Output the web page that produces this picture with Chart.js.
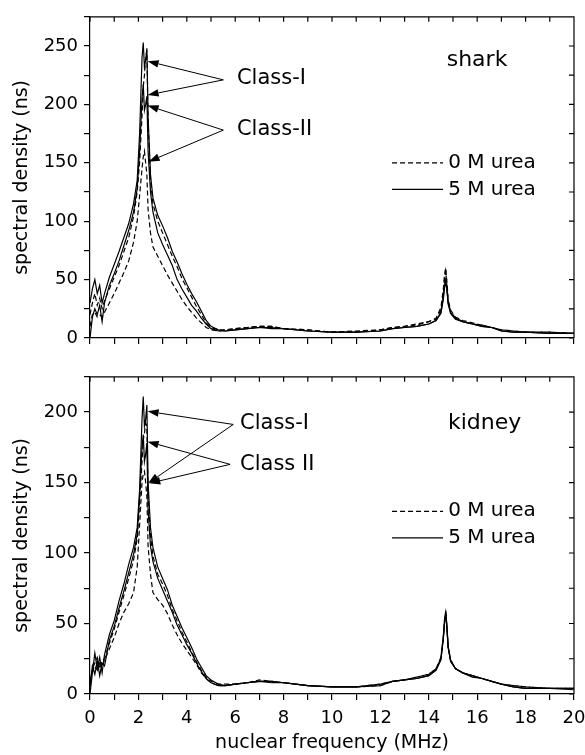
<!DOCTYPE html>
<html>
<head>
<meta charset="utf-8">
<script src="https://cdn.jsdelivr.net/npm/chart.js@4.4.1/dist/chart.umd.min.js"></script>
<style>
  html, body { margin: 0; padding: 0; background: #fff; }
  #wrap { position: relative; width: 585px; height: 755px; }
  canvas { position: absolute; left: 0; }
  #top { top: 0; }
  #bottom { top: 360px; }
</style>
</head>
<body>
<div id="wrap">
  <canvas id="top" width="585" height="360"></canvas>
  <canvas id="bottom" width="585" height="395"></canvas>
</div>
<script>
// frequency grid (MHz), shared by all curves
var freq = [0, 0.1, 0.2, 0.3, 0.4, 0.5, 0.6,
  0.8, 1.0, 1.2, 1.4, 1.6, 1.8,
  1.95, 2.05, 2.15, 2.2, 2.25, 2.3, 2.35, 2.4,
  2.5, 2.6, 2.8,
  3.0, 3.2, 3.4, 3.6, 3.8,
  4.0, 4.2, 4.4, 4.6, 4.8,
  5.0, 5.3, 5.6,
  6.0, 6.5, 7.0, 7.5, 8.0,
  9.0, 10.0, 11.0, 12.0,
  12.5, 13.0, 13.5, 14.0,
  14.3, 14.5, 14.6, 14.65, 14.7, 14.75, 14.8, 14.9,
  15.1, 15.4, 15.8, 16.2, 16.6,
  17.0, 17.5, 18.0, 19.0, 20.0];

// shark
var sharkI5 = [30, 42, 50, 38, 45, 30, 38,
  52, 63, 74, 86, 98, 115,
  135, 175, 240, 253, 232, 238, 248, 190,
  140, 120, 105,
  96, 86, 74, 65, 55,
  46, 38, 31, 23, 15,
  10, 7, 6,
  7, 8, 9, 9, 8,
  6, 5, 5, 6,
  8, 9, 10, 12,
  15, 22, 35, 45, 50, 42, 30, 22,
  17, 14, 12, 10, 9,
  6, 5, 5, 4, 4];
var sharkI0 = [20, 30, 38, 28, 34, 25, 32,
  42, 52, 62, 74, 86, 104,
  125, 150, 190, 215, 225, 240, 246, 185,
  135, 115, 100,
  90, 80, 70, 61, 51,
  43, 35, 27, 20, 13,
  9, 7, 7,
  8, 9, 10, 10, 8,
  7, 5, 5, 7,
  9, 10, 12, 14,
  17, 26, 42, 55, 60, 48, 33, 24,
  18, 15, 13, 11, 9,
  7, 6, 5, 5, 4];
var sharkII5 = [0, 18, 25, 20, 28, 14, 30,
  45, 55, 66, 79, 92, 108,
  128, 160, 205, 217, 195, 200, 207, 160,
  125, 108, 90,
  80, 71, 62, 50, 42,
  35, 28, 23, 17, 12,
  8, 6, 6,
  7, 8, 9, 8, 8,
  6, 5, 5, 6,
  8, 9, 10, 12,
  15, 21, 33, 43, 48, 40, 29, 21,
  16, 14, 12, 10, 9,
  6, 5, 5, 4, 4];
var sharkII0 = [10, 20, 22, 18, 20, 18, 22,
  30, 38, 47, 56, 66, 82,
  100, 122, 145, 155, 160, 150, 140, 110,
  90, 78, 70,
  62, 54, 47, 40, 33,
  27, 22, 17, 13, 9,
  7, 6, 7,
  8, 9, 10, 10, 8,
  7, 5, 6, 7,
  9, 10, 11, 14,
  16, 24, 38, 50, 57, 45, 31, 23,
  17, 14, 12, 11, 9,
  7, 6, 5, 5, 4];

// kidney
var kidneyI5 = [0, 15, 29, 18, 26, 15, 28,
  42, 52, 66, 78, 92, 104,
  118, 145, 195, 211, 190, 195, 205, 150,
  118, 104, 90,
  82, 74, 63, 55, 47,
  40, 33, 25, 19, 13,
  10, 7, 6,
  7, 8, 9, 8, 8,
  6, 5, 5, 7,
  9, 10, 11, 13,
  17, 25, 40, 52, 59, 48, 34, 24,
  18, 15, 13, 11, 9,
  7, 5, 4, 4, 3];
var kidneyI0 = [8, 18, 22, 26, 18, 24, 25,
  36, 46, 58, 70, 82, 95,
  110, 135, 165, 180, 185, 192, 190, 140,
  112, 98, 85,
  78, 70, 60, 52, 44,
  37, 30, 23, 17, 12,
  9, 7, 7,
  7, 8, 10, 9, 8,
  6, 5, 5, 7,
  9, 10, 12, 14,
  18, 26, 41, 53, 58, 47, 33, 24,
  18, 15, 13, 11, 9,
  7, 6, 5, 4, 4];
var kidneyII5 = [5, 20, 14, 24, 13, 22, 20,
  38, 48, 61, 73, 86, 99,
  113, 140, 175, 184, 165, 170, 178, 130,
  105, 94, 82,
  74, 66, 58, 49, 42,
  35, 29, 22, 16, 11,
  8, 6, 6,
  7, 8, 9, 9, 8,
  6, 5, 5, 6,
  9, 10, 11, 13,
  17, 24, 39, 50, 57, 46, 33, 23,
  18, 15, 12, 11, 9,
  7, 5, 4, 4, 4];
var kidneyII0 = [10, 16, 20, 17, 22, 20, 24,
  32, 40, 50, 58, 64, 72,
  90, 120, 150, 156, 158, 150, 140, 105,
  85, 72, 67,
  63, 57, 49, 42, 36,
  31, 26, 21, 15, 11,
  8, 6, 6,
  7, 8, 9, 9, 8,
  6, 5, 5, 6,
  9, 10, 12, 14,
  18, 25, 40, 51, 58, 47, 33, 24,
  18, 15, 13, 11, 9,
  7, 6, 5, 4, 4];

var xTickLabels = [0, 2, 4, 6, 8, 10, 12, 14, 16, 18, 20];
var sharkYLabels = [0, 50, 100, 150, 200, 250];
var kidneyYLabels = [0, 50, 100, 150, 200];
var legendLabels = ['0 M urea', '5 M urea'];

var FONT = 'DejaVu Sans';

function series(values, dashed) {
  return {
    data: freq.map(function(f, i) { return { x: f, y: values[i] }; }),
    borderColor: '#000',
    borderWidth: 1.2,
    borderDash: dashed ? [5, 3] : [],
    pointRadius: 0,
    tension: 0,
    fill: false
  };
}

function arrow(ctx, x0, y0, x1, y1) {
  var ang = Math.atan2(y1 - y0, x1 - x0), len = 11, half = 3.8;
  var bx = x1 - len * Math.cos(ang), by = y1 - len * Math.sin(ang);
  ctx.beginPath();
  ctx.moveTo(x0, y0);
  ctx.lineTo(bx, by);
  ctx.stroke();
  ctx.beginPath();
  ctx.moveTo(x1, y1);
  ctx.lineTo(bx + half * Math.sin(ang), by - half * Math.cos(ang));
  ctx.lineTo(bx - half * Math.sin(ang), by + half * Math.cos(ang));
  ctx.closePath();
  ctx.fill();
}

// frame, inner ticks on top/right, arrows, labels and the little legend
var panelDecor = {
  id: 'panelDecor',
  afterDraw: function(chart, args, opts) {
    var ctx = chart.ctx, a = chart.chartArea, xs = chart.scales.x, ys = chart.scales.y;
    var X = function(v) { return xs.getPixelForValue(v); };
    var Y = function(v) { return ys.getPixelForValue(v); };
    ctx.save();
    ctx.strokeStyle = '#000';
    ctx.fillStyle = '#000';
    ctx.lineWidth = 1.2;
    ctx.beginPath();
    ctx.moveTo(a.left, a.top);
    ctx.lineTo(a.right, a.top);
    ctx.lineTo(a.right, a.bottom);
    xs.ticks.forEach(function(t) {
      var px = X(t.value);
      ctx.moveTo(px, a.top);
      ctx.lineTo(px, a.top + 5);
    });
    ys.ticks.forEach(function(t) {
      var py = Y(t.value);
      ctx.moveTo(a.right, py);
      ctx.lineTo(a.right - 5, py);
    });
    ctx.stroke();

    ctx.lineWidth = 1;
    opts.arrows.forEach(function(ar) {
      arrow(ctx, X(ar.from[0]), Y(ar.from[1]), X(ar.to[0]), Y(ar.to[1]));
    });

    ctx.textAlign = 'left';
    ctx.textBaseline = 'middle';
    opts.texts.forEach(function(t) {
      ctx.font = t.size + 'px "' + FONT + '"';
      ctx.fillText(t.text, X(t.at[0]), Y(t.at[1]));
    });

    var lg = opts.legend;
    ctx.font = '20px "' + FONT + '"';
    ctx.lineWidth = 1.2;
    legendLabels.forEach(function(lbl, i) {
      var py = Y(lg.rows[i]);
      ctx.setLineDash(i === 0 ? [5, 3] : []);
      ctx.beginPath();
      ctx.moveTo(X(lg.x0), py);
      ctx.lineTo(X(lg.x1), py);
      ctx.stroke();
      ctx.setLineDash([]);
      ctx.fillText(lbl, X(lg.textX), py);
    });
    ctx.restore();
  }
};

function scalesFor(yMax, yLabels, showX) {
  return {
    x: {
      type: 'linear', min: 0, max: 20,
      afterFit: function(s) {
        s.height = showX ? 60 : 22;
        s.paddingLeft = 0;
        s.paddingRight = 0;
      },
      ticks: {
        stepSize: 1, display: showX, autoSkip: false, maxRotation: 0, padding: 8,
        color: '#000', font: { family: FONT, size: 18 },
        callback: function(v) { return xTickLabels.indexOf(v) >= 0 ? String(v) : ''; }
      },
      grid: { drawOnChartArea: false, drawTicks: true, tickLength: 6, color: '#000', lineWidth: 1.2 },
      border: { color: '#000', width: 1.2 },
      title: {
        display: showX, text: 'nuclear frequency (MHz)', color: '#000',
        font: { family: FONT, size: 19 }, padding: { top: 0, bottom: 0 }
      }
    },
    y: {
      min: 0, max: yMax,
      afterFit: function(s) { s.width = 90; },
      ticks: {
        stepSize: 25, autoSkip: false, padding: 6,
        color: '#000', font: { family: FONT, size: 18 },
        callback: function(v) { return yLabels.indexOf(v) >= 0 ? String(v) : ''; }
      },
      grid: { drawOnChartArea: false, drawTicks: true, tickLength: 6, color: '#000', lineWidth: 1.2 },
      border: { color: '#000', width: 1.2 },
      title: {
        display: true, text: 'spectral density (ns)', color: '#000',
        font: { family: FONT, size: 19 }, padding: { top: 11, bottom: 0 }
      }
    }
  };
}

new Chart(document.getElementById('top').getContext('2d'), {
  type: 'line',
  data: {
    datasets: [series(sharkI5, false), series(sharkI0, true), series(sharkII5, false), series(sharkII0, true)]
  },
  options: {
    responsive: false,
    animation: false,
    layout: { padding: { left: 0, right: 11, top: 15, bottom: 0 } },
    scales: scalesFor(275, sharkYLabels, false),
    plugins: {
      legend: { display: false },
      tooltip: { enabled: false },
      panelDecor: {
        arrows: [
          { from: [5.51, 221], to: [2.38, 237] },
          { from: [5.51, 221], to: [2.38, 208] },
          { from: [5.51, 178], to: [2.38, 199] },
          { from: [5.51, 178], to: [2.42, 151] }
        ],
        texts: [
          { text: 'Class-I', at: [6.07, 222], size: 21 },
          { text: 'Class-II', at: [6.07, 178.3], size: 21 },
          { text: 'shark', at: [14.74, 238], size: 22 }
        ],
        legend: { x0: 12.48, x1: 14.59, textX: 14.8, rows: [150, 127.3] }
      }
    }
  },
  plugins: [panelDecor]
});

new Chart(document.getElementById('bottom').getContext('2d'), {
  type: 'line',
  data: {
    datasets: [series(kidneyI5, false), series(kidneyI0, true), series(kidneyII5, false), series(kidneyII0, true)]
  },
  options: {
    responsive: false,
    animation: false,
    layout: { padding: { left: 0, right: 11, top: 12, bottom: 1 } },
    scales: scalesFor(225, kidneyYLabels, true),
    plugins: {
      legend: { display: false },
      tooltip: { enabled: false },
      panelDecor: {
        arrows: [
          { from: [5.92, 191.2], to: [2.38, 200.5] },
          { from: [5.92, 191.2], to: [2.40, 149.5] },
          { from: [5.79, 162.9], to: [2.38, 179] },
          { from: [5.79, 162.9], to: [2.45, 149.5] }
        ],
        texts: [
          { text: 'Class-I', at: [6.2, 192], size: 21 },
          { text: 'Class II', at: [6.2, 163], size: 21 },
          { text: 'kidney', at: [14.79, 192.2], size: 22 }
        ],
        legend: { x0: 12.48, x1: 14.59, textX: 14.8, rows: [129.6, 110.8] }
      }
    }
  },
  plugins: [panelDecor]
});
</script>
</body>
</html>
